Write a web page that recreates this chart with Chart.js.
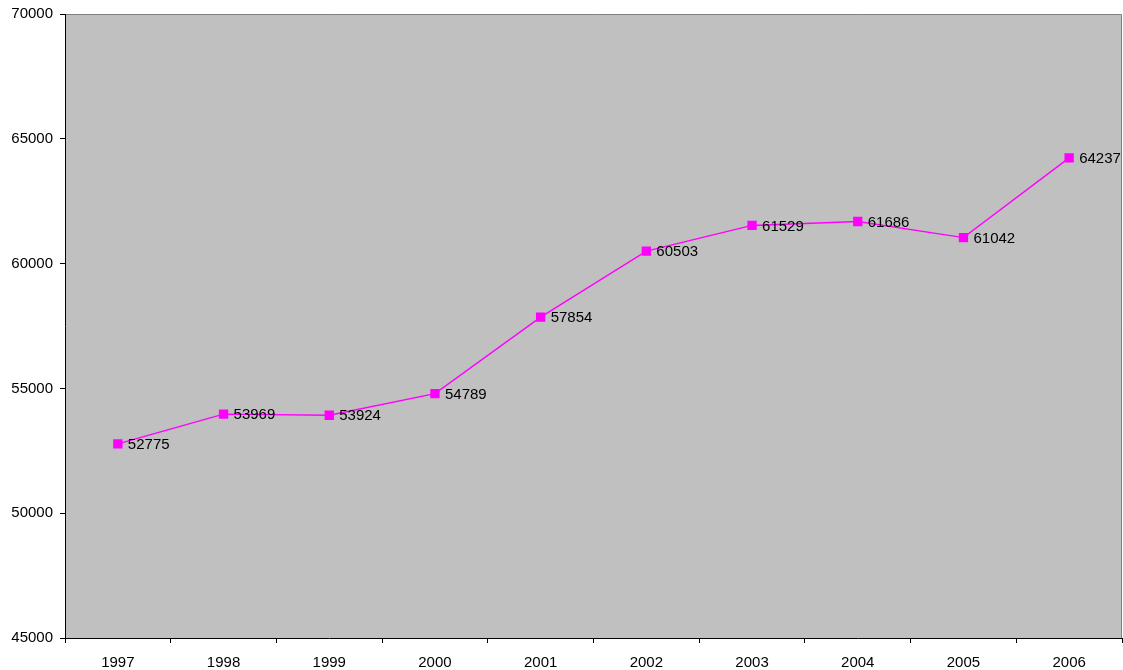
<!DOCTYPE html>
<html>
<head>
<meta charset="utf-8">
<script src="https://cdn.jsdelivr.net/npm/chart.js@4.4.0/dist/chart.umd.min.js"></script>
<style>
html,body{margin:0;padding:0;background:#fff;}
#wrap{width:1123px;height:670px;position:relative;}
</style>
</head>
<body>
<div id="wrap"><canvas id="c" width="1123" height="670"></canvas></div>
<script>
const categories = ["1997","1998","1999","2000","2001","2002","2003","2004","2005","2006"];
const values = [52775, 53969, 53924, 54789, 57854, 60503, 61529, 61686, 61042, 64237];
const yTicks = [45000, 50000, 55000, 60000, 65000, 70000];

const FONT = "'Liberation Sans', Arial, sans-serif";

const plotBg = {
  id: 'plotBg',
  beforeDraw(chart) {
    const {ctx, chartArea: a} = chart;
    ctx.save();
    ctx.fillStyle = '#C0C0C0';
    ctx.fillRect(a.left, a.top, a.right - a.left, a.bottom - a.top);
    ctx.strokeStyle = '#808080';
    ctx.lineWidth = 1;
    ctx.beginPath();
    ctx.moveTo(a.left, a.top + 0.5);
    ctx.lineTo(a.right - 0.5, a.top + 0.5);
    ctx.lineTo(a.right - 0.5, a.bottom);
    ctx.stroke();
    ctx.restore();
  }
};

const valueLabels = {
  id: 'valueLabels',
  afterDatasetsDraw(chart) {
    const {ctx} = chart;
    const meta = chart.getDatasetMeta(0);
    ctx.save();
    ctx.font = '15px ' + FONT;
    ctx.fillStyle = '#000';
    ctx.textAlign = 'left';
    ctx.textBaseline = 'middle';
    meta.data.forEach((pt, i) => {
      ctx.fillText(String(values[i]), pt.x + 10, pt.y + 1);
    });
    ctx.restore();
  }
};

new Chart(document.getElementById('c'), {
  type: 'line',
  data: {
    labels: categories,
    datasets: [{
      data: values,
      borderColor: '#FF00FF',
      backgroundColor: '#FF00FF',
      borderWidth: 1.4,
      pointStyle: 'rect',
      pointRadius: 6.6,
      pointHoverRadius: 6.6,
      pointBorderWidth: 0,
      tension: 0
    }]
  },
  options: {
    responsive: false,
    animation: false,
    devicePixelRatio: 1,
    layout: { autoPadding: false, padding: { top: 14, right: 1, left: 0, bottom: 0 } },
    plugins: { legend: { display: false }, tooltip: { enabled: false } },
    scales: {
      x: {
        offset: true,
        grid: { display: true, offset: true, drawOnChartArea: false, drawTicks: true, tickLength: 5, color: '#000' },
        border: { display: true, color: '#000', width: 1 },
        ticks: { color: '#000', font: { size: 15, family: FONT }, padding: 11, maxRotation: 0, autoSkip: false },
        afterFit(scale) { scale.height = 32; scale.paddingLeft = 0; scale.paddingRight = 0; }
      },
      y: {
        min: 45000,
        max: 70000,
        afterBuildTicks(scale) { scale.ticks = yTicks.map(v => ({ value: v })); },
        grid: { display: true, drawOnChartArea: false, drawTicks: true, tickLength: 5, color: '#000' },
        border: { display: true, color: '#000', width: 1 },
        ticks: { color: '#000', font: { size: 15, family: FONT }, padding: 7, callback: (v) => String(v) },
        afterFit(scale) { scale.width = 65; scale.paddingTop = 0; scale.paddingBottom = 0; }
      }
    }
  },
  plugins: [plotBg, valueLabels]
});
</script>
</body>
</html>
